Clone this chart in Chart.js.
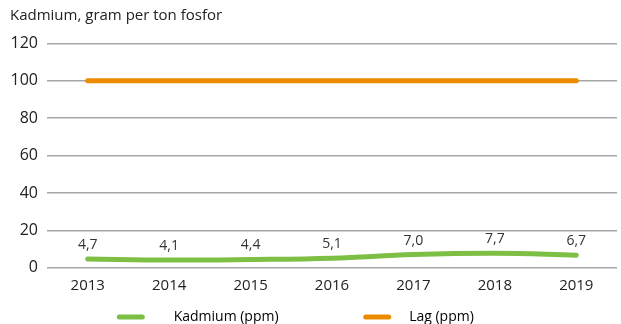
<!DOCTYPE html>
<html>
<head>
<meta charset="utf-8">
<script src="https://cdn.jsdelivr.net/npm/chart.js@4.4.1/dist/chart.umd.min.js"></script>
<style>
  html, body { margin: 0; padding: 0; background: #fff; }
  #wrap { width: 621px; height: 324px; }
</style>
</head>
<body>
<div id="wrap"><canvas id="kadmiumChart"></canvas></div>
<script>
// Kadmium i fosfor, år for år
const years = ['2013', '2014', '2015', '2016', '2017', '2018', '2019'];
const kadmium = [4.7, 4.1, 4.4, 5.1, 7.0, 7.7, 6.7];
const lag = [100, 100, 100, 100, 100, 100, 100];
const yTicks = [0, 20, 40, 60, 80, 100, 120];

const green = '#7DBE45';
const orange = '#ED8B00';
const fontFamily = '"Open Sans", "Noto Sans", sans-serif';

// mellomrom rundt legend-tekstene for å spre dem ut
const sp = n => ' '.repeat(n);
const legendTekst = [
    sp(6) + 'Kadmium (ppm)' + sp(23),
    sp(3) + 'Lag (ppm)' + sp(10)
];

// Verdietiketter over kadmium-linjen
const verdiEtiketter = {
    id: 'verdiEtiketter',
    afterDatasetsDraw(chart) {
        const ctx = chart.ctx;
        const meta = chart.getDatasetMeta(0);
        ctx.save();
        ctx.font = '14px ' + fontFamily;
        ctx.fillStyle = '#333';
        ctx.textAlign = 'center';
        ctx.textBaseline = 'middle';
        meta.data.forEach((pt, i) => {
            const txt = kadmium[i].toFixed(1).replace('.', ',');
            ctx.fillText(txt, pt.x, pt.y - 14);
        });
        ctx.restore();
    }
};

const ctx = document.getElementById('kadmiumChart').getContext('2d');
new Chart(ctx, {
    type: 'line',
    data: {
        labels: years,
        datasets: [
            {
                label: 'Kadmium (ppm)',
                data: kadmium,
                borderColor: green,
                backgroundColor: green,
                borderWidth: 5,
                borderCapStyle: 'round',
                pointRadius: 0,
                tension: 0.4,
                fill: false
            },
            {
                label: 'Lag (ppm)',
                data: lag,
                borderColor: orange,
                backgroundColor: orange,
                borderWidth: 5,
                borderCapStyle: 'round',
                pointRadius: 0,
                tension: 0,
                fill: false
            }
        ]
    },
    options: {
        responsive: true,
        maintainAspectRatio: false,
        animation: false,
        // legenden har ekstra luft under seg, derfor negativ bunnmarg
        layout: { padding: { left: 10, right: 4, top: 0, bottom: -10 } },
        scales: {
            x: {
                offset: true,
                grid: { display: false, drawTicks: false },
                border: { display: false },
                ticks: {
                    color: '#222',
                    font: { family: fontFamily, size: 15 },
                    padding: 9
                },
                afterFit(scale) {
                    scale.height = 41.3;
                }
            },
            y: {
                min: 0,
                max: 120,
                afterBuildTicks(scale) {
                    scale.ticks = yTicks.map(v => ({ value: v }));
                },
                afterFit(scale) {
                    scale.width = 37;
                },
                grid: {
                    color: '#A6A6A6',
                    lineWidth: 1.5,
                    drawTicks: false
                },
                border: { display: false },
                ticks: {
                    color: '#222',
                    font: { family: fontFamily, size: 16 },
                    padding: 9
                }
            }
        },
        plugins: {
            title: {
                display: true,
                text: 'Kadmium, gram per ton fosfor',
                align: 'start',
                color: '#222',
                font: { family: fontFamily, size: 15, weight: 'normal' },
                padding: { top: 7, bottom: 18.5 }
            },
            legend: {
                position: 'bottom',
                labels: {
                    boxWidth: 28,
                    boxHeight: 5,
                    padding: 1,
                    useBorderRadius: true,
                    borderRadius: 2.5,
                    color: '#222',
                    font: { family: fontFamily, size: 14 },
                    generateLabels(chart) {
                        return chart.data.datasets.map((ds, i) => ({
                            text: legendTekst[i],
                            fillStyle: ds.borderColor,
                            strokeStyle: ds.borderColor,
                            lineWidth: 0,
                            borderRadius: 2.5,
                            datasetIndex: i
                        }));
                    }
                }
            },
            tooltip: { enabled: false }
        }
    },
    plugins: [verdiEtiketter]
});
</script>
</body>
</html>
